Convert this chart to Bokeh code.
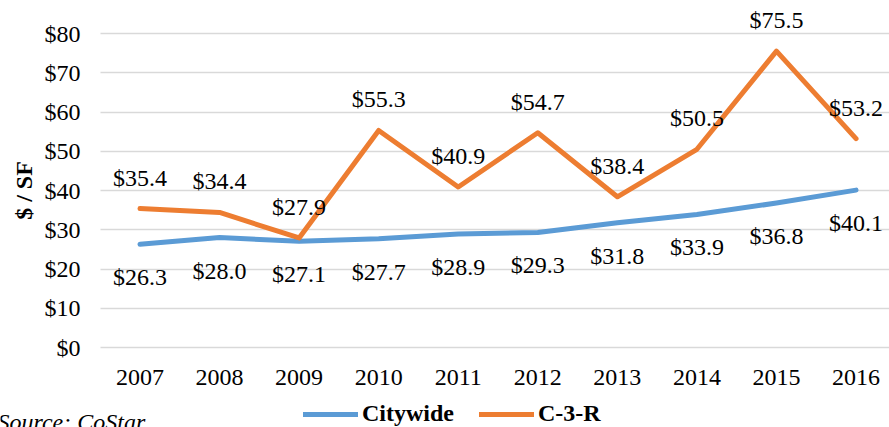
from bokeh.plotting import figure
from bokeh.models import (ColumnDataSource, FixedTicker, Range1d, Legend, LegendItem,
                          Label, NumeralTickFormatter, CustomJSTickFormatter, Grid)
from bokeh.core.properties import value
from bokeh.embed import file_html
from bokeh.resources import INLINE

years = [2007, 2008, 2009, 2010, 2011, 2012, 2013, 2014, 2015, 2016]
citywide = [26.3, 28.0, 27.1, 27.7, 28.9, 29.3, 31.8, 33.9, 36.8, 40.1]
c3r = [35.4, 34.4, 27.9, 55.3, 40.9, 54.7, 38.4, 50.5, 75.5, 53.2]
y_ticks = [0, 10, 20, 30, 40, 50, 60, 70, 80]

FONT = "'Liberation Serif', 'Times New Roman', serif"
FS = "24px"
BLUE = "#5B9BD5"
ORANGE = "#ED7D31"

X0, X1 = 2005.2466, 2016.4206     # visible x extent of the whole canvas
Y0, Y1 = -20.382, 88.408          # visible y extent of the whole canvas
PLOT_LEFT = 2006.5035             # left edge of the plotting area (y axis position)

src = ColumnDataSource(dict(
    x=years, cw=citywide, c3=c3r,
    cw_lab=["$%.1f" % v for v in citywide],
    c3_lab=["$%.1f" % v for v in c3r],
))

p = figure(width=889, height=427, output_backend="svg", toolbar_location=None,
           x_range=Range1d(X0, X1), y_range=Range1d(Y0, Y1), min_border=0)
p.outline_line_color = None
p.background_fill_color = "white"
p.border_fill_color = "white"

# horizontal gridlines restricted to the plotting area
p.xgrid.grid_line_color = None
if "cross_bounds" in Grid.properties():
    p.ygrid.ticker = FixedTicker(ticks=y_ticks)
    p.ygrid.cross_bounds = (PLOT_LEFT, X1)
    p.ygrid.grid_line_color = "#d9d9d9"
    p.ygrid.grid_line_width = 1.3
else:
    p.ygrid.grid_line_color = None
    p.segment(x0=PLOT_LEFT, x1=X1, y0=y_ticks, y1=y_ticks,
              line_color="#d9d9d9", line_width=1.3)

p.xaxis.ticker = FixedTicker(ticks=years)
p.xaxis.formatter = CustomJSTickFormatter(code="return String(tick)")
p.xaxis.fixed_location = 0
p.yaxis.ticker = FixedTicker(ticks=y_ticks)
p.yaxis.formatter = NumeralTickFormatter(format="$0")
p.yaxis.fixed_location = PLOT_LEFT
p.yaxis.bounds = (0, 80)
for ax in (p.xaxis[0], p.yaxis[0]):
    ax.axis_line_color = None
    ax.major_tick_line_color = None
    ax.minor_tick_line_color = None
    ax.major_tick_in = 0
    ax.major_tick_out = 0
    ax.major_label_text_font = FONT
    ax.major_label_text_font_size = FS
    ax.major_label_text_color = "black"
p.xaxis.major_label_standoff = 22
p.yaxis.major_label_standoff = 20
p.yaxis.axis_label = "$ / SF"
p.yaxis.axis_label_text_font = FONT
p.yaxis.axis_label_text_font_size = FS
p.yaxis.axis_label_text_font_style = "bold"
p.yaxis.axis_label_text_color = "black"
p.yaxis.axis_label_standoff = 5

r_cw = p.line("x", "cw", source=src, line_color=BLUE, line_width=5,
              line_cap="round", line_join="round")
r_c3 = p.line("x", "c3", source=src, line_color=ORANGE, line_width=5,
              line_cap="round", line_join="round")

p.text("x", "c3", text="c3_lab", source=src, text_font=value(FONT), text_font_size=value(FS),
       text_align="center", text_baseline="middle", y_offset=-31, text_color="black")
p.text("x", "cw", text="cw_lab", source=src, text_font=value(FONT), text_font_size=value(FS),
       text_align="center", text_baseline="middle", y_offset=33, text_color="black")

legend = Legend(items=[LegendItem(label="Citywide", renderers=[r_cw]),
                       LegendItem(label="C-3-R", renderers=[r_c3])],
                orientation="horizontal", location=(303, 0),
                glyph_width=55, glyph_height=20, label_standoff=4, spacing=25,
                padding=0, margin=0, border_line_color=None, background_fill_alpha=0,
                label_text_font=FONT, label_text_font_size=FS, label_text_font_style="bold",
                label_text_color="black")
p.add_layout(legend)

p.add_layout(Label(x=-3, y=6, x_units="screen", y_units="screen", text="Source: CoStar",
                   text_font=FONT, text_font_size=FS, text_font_style="italic",
                   text_color="black", text_baseline="alphabetic"))

open("out.html", "w").write(file_html(p, INLINE))
